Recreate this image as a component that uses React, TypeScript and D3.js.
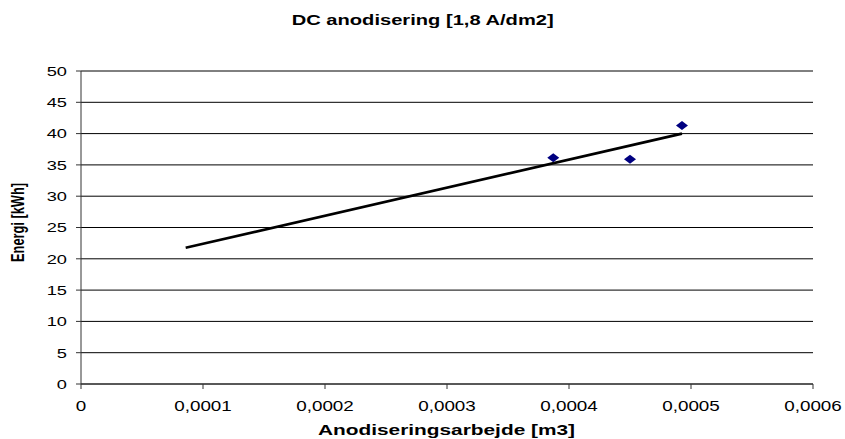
import React from "react";
import * as d3 from "d3";

// Measurements: anodising work [m3] vs energy [kWh]
const workM3 = [0.0003871, 0.00045, 0.0004926];
const energyKWh = [36.15, 35.9, 41.3];
// Linear trendline is drawn back to this x value
const trendStartX = 0.0000858;

const xTicks = [0, 0.0001, 0.0002, 0.0003, 0.0004, 0.0005, 0.0006];
const yTicks = [0, 5, 10, 15, 20, 25, 30, 35, 40, 45, 50];

const title = "DC anodisering [1,8 A/dm2]";
const xTitle = "Anodiseringsarbejde [m3]";
const yTitle = "Energi [kWh]";

const W = 845;
const H = 439;
const FONT = "'Liberation Sans', Arial, sans-serif";
const STRETCH = 1.35;

const fmt = (v: number) => (v === 0 ? "0" : v.toFixed(4).replace(".", ","));

export default function App() {
  const x = d3.scaleLinear().domain([0, 0.0006]).range([81, 813]);
  const y = d3.scaleLinear().domain([0, 50]).range([384, 71]);

  // least-squares fit
  const mx = d3.mean(workM3) as number;
  const my = d3.mean(energyKWh) as number;
  let sxx = 0;
  let sxy = 0;
  workM3.forEach((v, i) => {
    sxx += (v - mx) * (v - mx);
    sxy += (v - mx) * (energyKWh[i] - my);
  });
  const slope = sxy / sxx;
  const icpt = my - slope * mx;
  const trendEnd = d3.max(workM3) as number;
  const trend: [number, number][] = [
    [trendStartX, icpt + slope * trendStartX],
    [trendEnd, icpt + slope * trendEnd],
  ];
  const line = d3
    .line<[number, number]>()
    .x((d) => x(d[0]))
    .y((d) => y(d[1]));

  const [x0, x1] = x.range();

  return (
    <svg
      width={W}
      height={H}
      style={{ position: "absolute", left: 0, top: 0, background: "#fff" }}
      fontFamily={FONT}
    >
      <rect width={W} height={H} fill="#fff" />
      <text
        x={291.7}
        y={25}
        fontSize={15}
        fontWeight="bold"
        textLength={262}
        lengthAdjust="spacingAndGlyphs"
      >
        {title}
      </text>

      {/* horizontal gridlines */}
      {yTicks.map((t) => (
        <line key={"g" + t} x1={x0} x2={x1} y1={y(t)} y2={y(t)} stroke="#000" strokeWidth={1} />
      ))}

      {/* y axis */}
      <line x1={x0} x2={x0} y1={y(0)} y2={y(50)} stroke="#333" strokeWidth={1} />
      {yTicks.map((t) => (
        <g key={"y" + t}>
          <line x1={x0 - 5} x2={x0} y1={y(t)} y2={y(t)} stroke="#333" />
          <text
            transform={`translate(${67},${y(t) + 4.8}) scale(${STRETCH},1)`}
            textAnchor="end"
            fontSize={13.5}
          >
            {t}
          </text>
        </g>
      ))}

      {/* x axis */}
      <line x1={x0} x2={x1} y1={y(0)} y2={y(0)} stroke="#333" strokeWidth={1} />
      {xTicks.map((t) => (
        <g key={"x" + t}>
          <line x1={x(t)} x2={x(t)} y1={y(0)} y2={y(0) + 5} stroke="#333" />
          <text
            transform={`translate(${x(t)},${411}) scale(1.3,1)`}
            textAnchor="middle"
            fontSize={14.5}
          >
            {fmt(t)}
          </text>
        </g>
      ))}

      <text
        x={318}
        y={435}
        fontSize={15}
        fontWeight="bold"
        textLength={257}
        lengthAdjust="spacingAndGlyphs"
      >
        {xTitle}
      </text>
      <text
        transform={`translate(24,222.5) rotate(-90) scale(1,1.45)`}
        textAnchor="middle"
        fontSize={12.5}
        fontWeight="bold"
        textLength={79}
        lengthAdjust="spacingAndGlyphs"
      >
        {yTitle}
      </text>

      {/* trendline */}
      <path d={line(trend) || ""} fill="none" stroke="#000" strokeWidth={2.6} />

      {/* data markers */}
      {workM3.map((v, i) => {
        const cx = x(v);
        const cy = y(energyKWh[i]);
        return (
          <path
            key={"m" + i}
            d={`M${cx - 6},${cy}L${cx},${cy - 4.5}L${cx + 6},${cy}L${cx},${cy + 4.5}Z`}
            fill="#000080"
          />
        );
      })}
    </svg>
  );
}
